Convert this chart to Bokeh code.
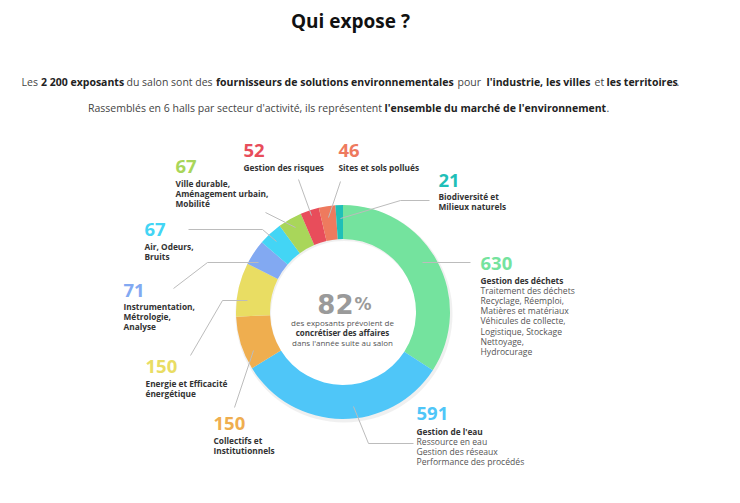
import numpy as np
from bokeh.plotting import figure
from bokeh.models import Range1d
from bokeh.core.properties import value
from bokeh.embed import file_html
from bokeh.resources import INLINE

# ---------------- data ----------------
categories = ["Gestion des déchets", "Gestion de l'eau", "Collectifs et Institutionnels",
              "Energie et Efficacité énergétique", "Instrumentation, Métrologie, Analyse",
              "Air, Odeurs, Bruits", "Ville durable, Aménagement urbain, Mobilité",
              "Gestion des risques", "Sites et sols pollués", "Biodiversité et Milieux naturels"]
exposants = [630, 591, 150, 150, 71, 67, 67, 52, 46, 21]
colors = ["#74E39E", "#4FC6F8", "#EFAE4F", "#E9DD63", "#82A9F2",
          "#43D5F5", "#A9D65A", "#E84D5B", "#EE7A5E", "#1FBFB8"]
name_lines = [["Gestion des déchets"], ["Gestion de l'eau"], ["Collectifs et", "Institutionnels"],
              ["Energie et Efficacité", "énergétique"], ["Instrumentation,", "Métrologie,", "Analyse"],
              ["Air, Odeurs,", "Bruits"], ["Ville durable,", "Aménagement urbain,", "Mobilité"],
              ["Gestion des risques"], ["Sites et sols pollués"], ["Biodiversité et", "Milieux naturels"]]
sub_lines = [["Traitement des déchets", "Recyclage, Réemploi,", "Matières et matériaux",
              "Véhicules de collecte,", "Logistique, Stockage", "Nettoyage,", "Hydrocurage"],
             ["Ressource en eau", "Gestion des réseaux", "Performance des procédés"],
             [], [], [], [], [], [], [], []]
title = "Qui expose ?"
line1 = [("Les", False), ("2 200 exposants", True), ("du salon sont des", False),
         ("fournisseurs de solutions environnementales", True), ("pour", False),
         ("l'industrie,", True), ("les villes", True), ("et", False), ("les territoires", True), (".", False)]
line2 = [("Rassemblés en 6 halls par secteur d'activité, ils représentent", False),
         ("l'ensemble du marché de l'environnement", True), (".", False)]
center_value = "82"
center_lines = [("des exposants prévoient de", False), ("concrétiser des affaires", True),
                ("dans l'année suite au salon", False)]

# ---------------- layout (page pixel positions) ----------------
W, H = 724, 487
def px(x): return x
def py(y): return H - y

line1_x = [21, 40.5, 126, 215.5, 457, 486, 545.5, 594, 606, 676]
line2_x = [87.5, 384, 606]
CX, CY, R_OUT, R_IN = 342.5, 311.5, 107, 73
# label anchors: x, number y, first text line y
anchors = [(480, 263, 280), (416, 413, 431), (213, 423, 440), (145, 366, 383), (123, 290, 306),
           (144, 229, 246), (175, 166, 183), (243, 150, 167), (338, 150, 167), (438, 180, 196)]
LSP = 10.2
leaders = [[(422, 262), (470, 262)],
           [(353, 406), (368, 443), (413, 443)],
           [(253, 350), (234, 407)],
           [(247, 300), (222, 300), (190, 355)],
           [(258, 262), (207, 262), (173, 288)],
           [(276, 241), (262, 229), (188, 229)],
           [(295, 227), (265, 212)],
           [(311, 215), (298, 179)],
           [(328, 217), (340, 181)],
           [(340, 218), (400, 200), (429, 200)]]

FONT = value("Open Sans")

p = figure(width=W, height=H, x_range=Range1d(0, W), y_range=Range1d(0, H),
           output_backend="svg", toolbar_location=None, min_border=0)
p.axis.visible = False
p.grid.visible = False
p.outline_line_color = None
p.background_fill_color = "white"
p.border_fill_color = "white"

# title
p.text(x=[px(350)], y=[py(20)], text=[title], text_font=FONT, text_font_size="19px",
       text_font_style="bold", text_color="#111111", text_align="center", text_baseline="middle")

# intro lines
for segs, xs, yy in [(line1, line1_x, 81), (line2, line2_x, 107)]:
    for (t, b), x in zip(segs, xs):
        p.text(x=[px(x)], y=[py(yy)], text=[t], text_font=FONT, text_font_size="10.5px",
               text_font_style="bold" if b else "normal",
               text_color="#222222" if b else "#444444", text_align="left", text_baseline="middle")

# donut
vals = np.array(exposants, dtype=float)
frac = np.cumsum(vals) / vals.sum()
start = np.pi / 2 - np.concatenate([[0], frac[:-1]]) * 2 * np.pi
end = np.pi / 2 - frac * 2 * np.pi
p.annular_wedge(x=px(CX + 1), y=py(CY + 2), inner_radius=R_IN, outer_radius=R_OUT + 1.5,
                start_angle=np.pi / 2, end_angle=np.pi / 2 - 2 * np.pi + 1e-6, direction="clock",
                fill_color="#e2e2e2", fill_alpha=0.5, line_color=None)
p.annular_wedge(x=px(CX), y=py(CY), inner_radius=R_IN, outer_radius=R_OUT,
                start_angle=start, end_angle=end, direction="clock",
                fill_color=colors, line_color=None)

# leader lines
p.multi_line(xs=[[px(a) for a, b in l] for l in leaders], ys=[[py(b) for a, b in l] for l in leaders],
             line_color="#bcbcbc", line_width=1)

# labels
for i, (ax, ny, ty) in enumerate(anchors):
    p.text(x=[px(ax)], y=[py(ny)], text=[str(exposants[i])], text_font=FONT, text_font_size="18.5px",
           text_font_style="bold", text_color=colors[i], text_align="left", text_baseline="middle")
    y = ty
    for t in name_lines[i]:
        p.text(x=[px(ax)], y=[py(y)], text=[t], text_font=FONT, text_font_size="8.3px",
               text_font_style="bold", text_color="#333333", text_align="left", text_baseline="middle")
        y += LSP
    for t in sub_lines[i]:
        p.text(x=[px(ax)], y=[py(y)], text=[t], text_font=FONT, text_font_size="8.6px",
               text_color="#555555", text_align="left", text_baseline="middle")
        y += LSP

# centre
p.text(x=[px(353)], y=[py(303)], text=[center_value], text_font=value("DejaVu Sans"),
       text_font_size="26px", text_font_style="bold", text_color="#9a9a9a",
       text_align="right", text_baseline="alphabetic")
p.text(x=[px(354)], y=[py(303)], text=["%"], text_font=value("DejaVu Sans"),
       text_font_size="17px", text_font_style="bold", text_color="#9a9a9a",
       text_align="left", text_baseline="alphabetic")
for k, (t, b) in enumerate(center_lines):
    p.text(x=[px(342)], y=[py(322 + 10 * k)], text=[t], text_font=FONT, text_font_size="8px",
           text_font_style="bold" if b else "normal", text_color="#333333" if b else "#555555",
           text_align="center", text_baseline="middle")

open("out.html", "w").write(file_html(p, INLINE))
